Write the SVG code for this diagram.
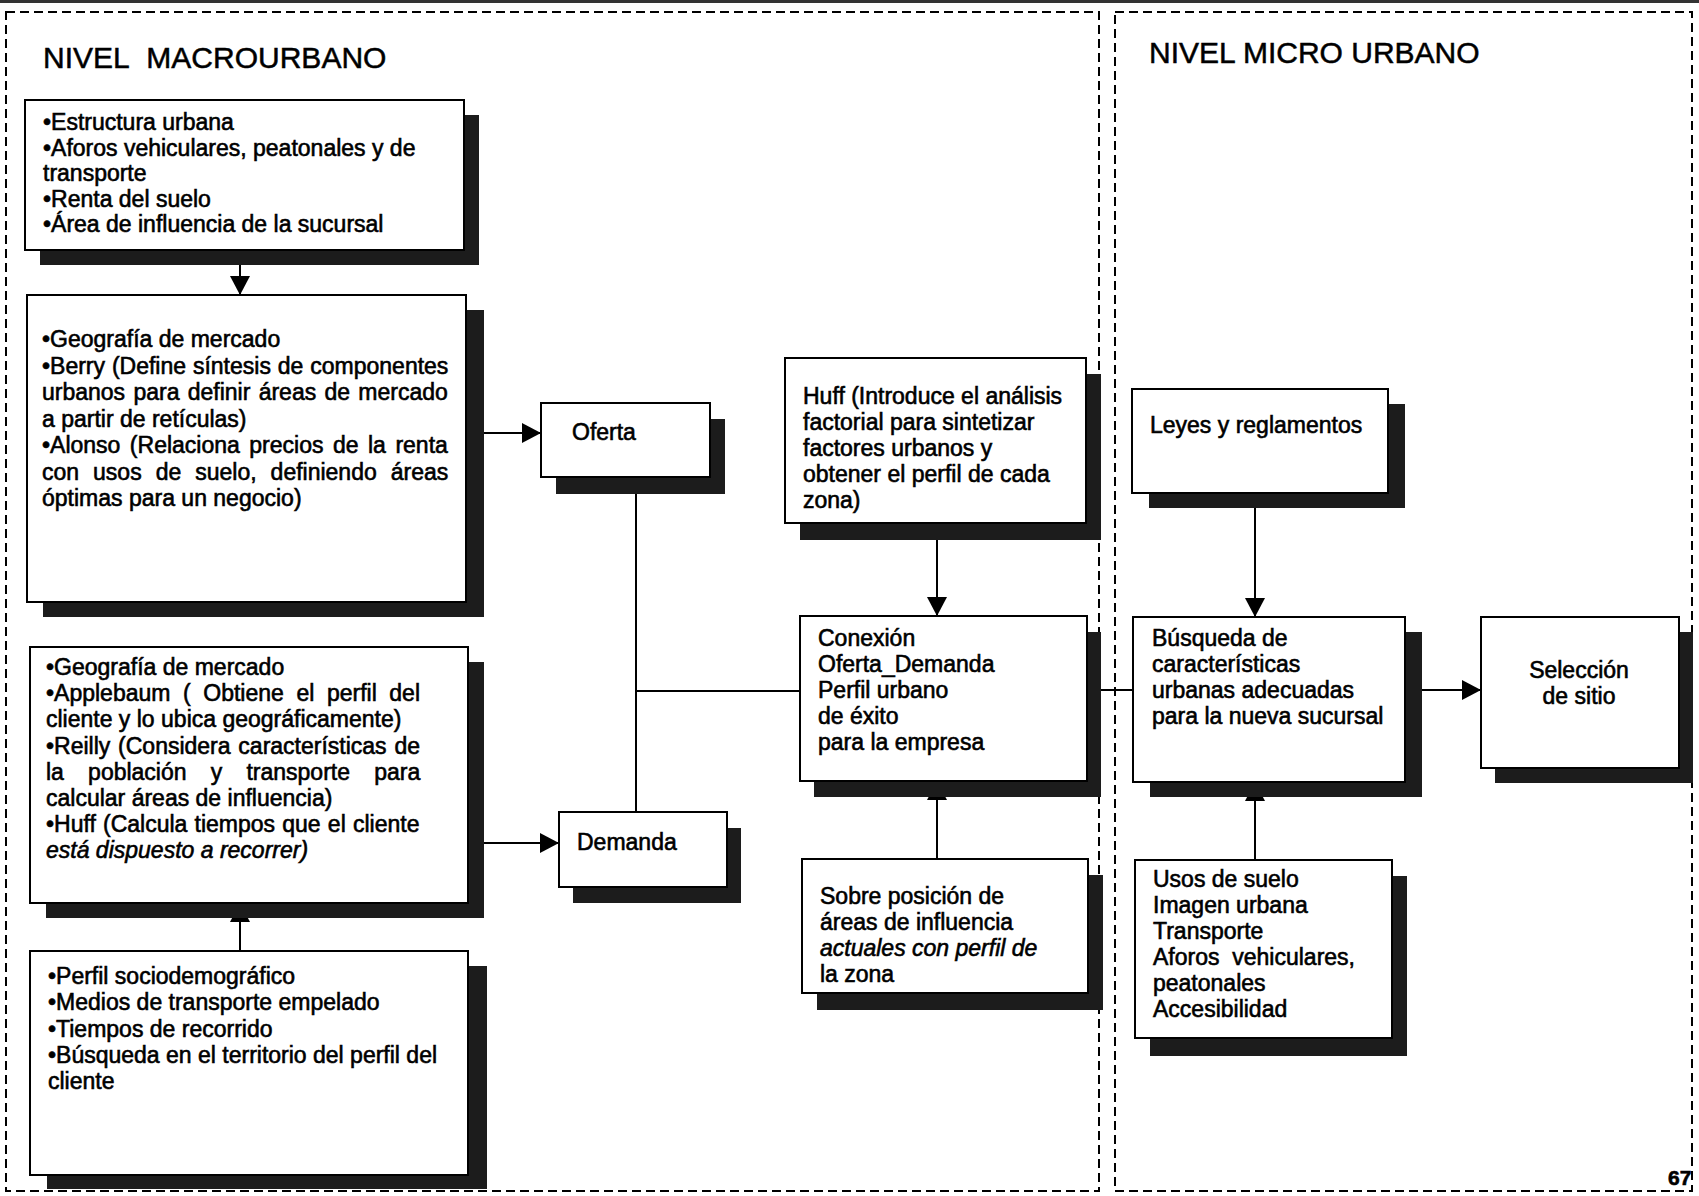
<svg xmlns="http://www.w3.org/2000/svg" width="1699" height="1196" viewBox="0 0 1699 1196">
<defs>
<style>
text{font-family:"Liberation Sans",Arial,sans-serif;font-size:23px;fill:#000;stroke:#000;stroke-width:0.6}
.title{font-size:30px;stroke-width:0.5}
.box{fill:#fff;stroke:#000;stroke-width:2}
.sh{fill:#1c1c1c}
.panel{fill:none;stroke:#000;stroke-width:2;stroke-dasharray:9 5}
.con{fill:none;stroke:#000;stroke-width:2}
.it{font-style:italic}
</style>
<marker id="ah" markerUnits="userSpaceOnUse" markerWidth="19" markerHeight="20" refX="19" refY="10" orient="auto">
<path d="M0,0 L19,10 L0,20 Z" fill="#000"/>
</marker>
</defs>
<rect width="1699" height="1196" fill="#fff"/>
<line x1="0" y1="1.5" x2="1699" y2="1.5" stroke="#333" stroke-width="3"/>
<g id="panels">
<rect class="panel" x="6" y="12" width="1093" height="1179"/>
<rect class="panel" x="1115" y="12" width="577" height="1179"/>
<text class="title" x="43" y="68">NIVEL&#160; MACROURBANO</text>
<text class="title" x="1149" y="63">NIVEL MICRO URBANO</text>
</g>
<g id="connectors">
<line class="con" x1="240" y1="265" x2="240" y2="295" marker-end="url(#ah)"/>
<line class="con" x1="240" y1="951" x2="240" y2="903" marker-end="url(#ah)"/>
<line class="con" x1="466" y1="433" x2="541" y2="433" marker-end="url(#ah)"/>
<line class="con" x1="468" y1="843" x2="559" y2="843" marker-end="url(#ah)"/>
<line class="con" x1="636" y1="477" x2="636" y2="812"/>
<line class="con" x1="636" y1="691" x2="800" y2="691"/>
<line class="con" x1="937" y1="523" x2="937" y2="616" marker-end="url(#ah)"/>
<line class="con" x1="937" y1="859" x2="937" y2="781" marker-end="url(#ah)"/>
<line class="con" x1="1255" y1="493" x2="1255" y2="617" marker-end="url(#ah)"/>
<line class="con" x1="1255" y1="860" x2="1255" y2="782" marker-end="url(#ah)"/>
<line class="con" x1="1087" y1="690" x2="1133" y2="690"/>
<line class="con" x1="1405" y1="690" x2="1481" y2="690" marker-end="url(#ah)"/>
</g>
<g id="n-estructura">
<rect class="sh" x="40" y="115" width="439" height="150"/>
<rect class="box" x="25" y="100" width="439" height="150"/>
<text x="43" y="130">•Estructura urbana</text>
<text x="43" y="155.5">•Aforos vehiculares, peatonales y de</text>
<text x="43" y="181">transporte</text>
<text x="43" y="206.5">•Renta del suelo</text>
<text x="43" y="232">•Área de influencia de la sucursal</text>
</g>
<g id="n-oferta-teorias">
<rect class="sh" x="43" y="310" width="441" height="307"/>
<rect class="box" x="27" y="295" width="439" height="307"/>
<text x="42" y="347">•Geografía de mercado</text>
<text x="42" y="373.5" word-spacing="0.5">•Berry (Define síntesis de componentes</text>
<text x="42" y="400" word-spacing="1.9">urbanos para definir áreas de mercado</text>
<text x="42" y="426.5">a partir de retículas)</text>
<text x="42" y="453" word-spacing="3.1">•Alonso (Relaciona precios de la renta</text>
<text x="42" y="479.5" word-spacing="7.6">con usos de suelo, definiendo áreas</text>
<text x="42" y="506">óptimas para un negocio)</text>
</g>
<g id="n-demanda-teorias">
<rect class="sh" x="46" y="662" width="438" height="256"/>
<rect class="box" x="30" y="647" width="438" height="256"/>
<text x="46" y="675">•Geografía de mercado</text>
<text x="46" y="701.2" word-spacing="6.2">•Applebaum ( Obtiene el perfil del</text>
<text x="46" y="727.4">cliente y lo ubica geográficamente)</text>
<text x="46" y="753.6" word-spacing="1.4">•Reilly (Considera características de</text>
<text x="46" y="779.8" word-spacing="17.8">la población y transporte para</text>
<text x="46" y="806">calcular áreas de influencia)</text>
<text x="46" y="832.2" word-spacing="0.8">•Huff (Calcula tiempos que el cliente</text>
<text x="46" y="858.4" class="it">está dispuesto a recorrer)</text>
</g>
<g id="n-perfil">
<rect class="sh" x="47" y="966" width="440" height="223"/>
<rect class="box" x="30" y="951" width="438" height="224"/>
<text x="48" y="984">•Perfil sociodemográfico</text>
<text x="48" y="1010.3">•Medios de transporte empelado</text>
<text x="48" y="1036.6">•Tiempos de recorrido</text>
<text x="48" y="1062.9">•Búsqueda en el territorio del perfil del</text>
<text x="48" y="1089.2">cliente</text>
</g>
<g id="n-oferta">
<rect class="sh" x="556" y="419" width="169" height="75"/>
<rect class="box" x="541" y="403" width="169" height="74"/>
<text x="572" y="440">Oferta</text>
</g>
<g id="n-demanda">
<rect class="sh" x="573" y="828" width="168" height="75"/>
<rect class="box" x="559" y="812" width="168" height="75"/>
<text x="577" y="850">Demanda</text>
</g>
<g id="n-huff">
<rect class="sh" x="800" y="374" width="301" height="166"/>
<rect class="box" x="785" y="358" width="301" height="165"/>
<text x="803" y="404">Huff (Introduce el análisis</text>
<text x="803" y="430">factorial para sintetizar</text>
<text x="803" y="456">factores urbanos y</text>
<text x="803" y="482">obtener el perfil de cada</text>
<text x="803" y="508">zona)</text>
</g>
<g id="n-conexion">
<rect class="sh" x="814" y="632" width="287" height="165"/>
<rect class="box" x="800" y="616" width="287" height="165"/>
<text x="818" y="646">Conexión</text>
<text x="818" y="672">Oferta_Demanda</text>
<text x="818" y="698">Perfil urbano</text>
<text x="818" y="724">de éxito</text>
<text x="818" y="750">para la empresa</text>
</g>
<g id="n-sobreposicion">
<rect class="sh" x="817" y="875" width="286" height="135"/>
<rect class="box" x="802" y="859" width="286" height="134"/>
<text x="820" y="904">Sobre posición de</text>
<text x="820" y="930">áreas de influencia</text>
<text x="820" y="956" class="it">actuales con perfil de</text>
<text x="820" y="982">la zona</text>
</g>
<g id="n-leyes">
<rect class="sh" x="1149" y="404" width="256" height="104"/>
<rect class="box" x="1132" y="389" width="256" height="104"/>
<text x="1150" y="433">Leyes y reglamentos</text>
</g>
<g id="n-busqueda">
<rect class="sh" x="1150" y="632" width="272" height="165"/>
<rect class="box" x="1133" y="617" width="272" height="165"/>
<text x="1152" y="646">Búsqueda de</text>
<text x="1152" y="672">características</text>
<text x="1152" y="698">urbanas adecuadas</text>
<text x="1152" y="724">para la nueva sucursal</text>
</g>
<g id="n-seleccion">
<rect class="sh" x="1495" y="632" width="198" height="151"/>
<rect class="box" x="1481" y="617" width="198" height="151"/>
<text x="1579" y="678" text-anchor="middle">Selección</text>
<text x="1579" y="704" text-anchor="middle">de sitio</text>
</g>
<g id="n-usos">
<rect class="sh" x="1150" y="876" width="257" height="180"/>
<rect class="box" x="1135" y="860" width="257" height="178"/>
<text x="1153" y="887">Usos de suelo</text>
<text x="1153" y="913">Imagen urbana</text>
<text x="1153" y="939">Transporte</text>
<text x="1153" y="965">Aforos&#160; vehiculares,</text>
<text x="1153" y="991">peatonales</text>
<text x="1153" y="1017">Accesibilidad</text>
</g>
<text x="1668" y="1185" font-weight="bold" style="font-size:21px">67</text>
</svg>
